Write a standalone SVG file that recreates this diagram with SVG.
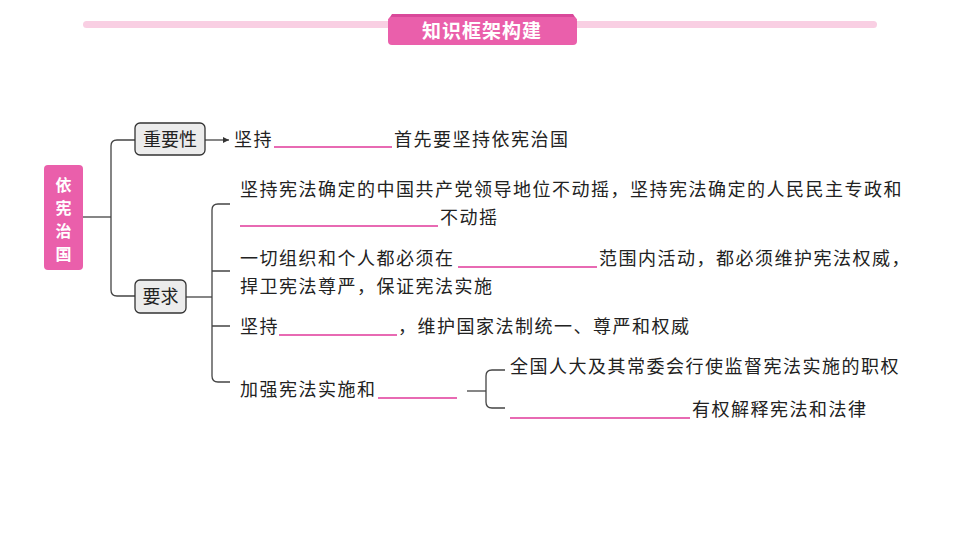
<svg xmlns="http://www.w3.org/2000/svg" width="960" height="540" viewBox="0 0 960 540">
<defs>
<style>
.t{font-family:"Noto Sans CJK SC","Noto Sans",sans-serif;font-size:18px;letter-spacing:1.5px;fill:#222}
.b{stroke:#e0389a;stroke-width:1.5}
.c{fill:none;stroke:#444;stroke-width:1.3}
.box{fill:#ececec;stroke:#333;stroke-width:1.3}
</style>
<marker id="ah" markerWidth="6" markerHeight="6" refX="5" refY="3" orient="auto"><path d="M0,0.5 L5,3 L0,5.5z" fill="#333"/></marker>
</defs>
<rect width="960" height="540" fill="#fff"/>
<g id="header">
<rect x="83" y="21" width="794" height="7" rx="3.5" fill="#f9cfe3"/>
<path d="M388,20 L392,14 L573,14 L577,20 Z" fill="#d9489a"/>
<rect x="388" y="17" width="189" height="28" rx="4" fill="#ea5fab"/>
<text x="482" y="38" text-anchor="middle" font-family="Noto Sans CJK SC,sans-serif" font-weight="bold" font-size="19" letter-spacing="1" fill="#fff">知识框架构建</text>
</g>
<g id="connectors">
<path class="c" d="M83,217 H111"/>
<path class="c" d="M135,140 H117 Q111,140 111,146 V290 Q111,296 117,296 H135"/>
<path class="c" d="M205,140 H229" marker-end="url(#ah)"/>
<path class="c" d="M186,297 H212"/>
<path class="c" d="M230,204 H218 Q212,204 212,210 V376 Q212,382 218,382 H230"/>
<path class="c" d="M212,271 H230 M212,326 H230"/>
<path class="c" d="M467,391 H486"/>
<path class="c" d="M505,370 H492 Q486,370 486,376 V402 Q486,408 492,408 H505"/>
</g>
<g id="root">
<rect x="44" y="165" width="39" height="105" rx="4" fill="#ea5fab"/>
<g font-family="Noto Sans CJK SC,sans-serif" font-weight="bold" font-size="16" fill="#fff" text-anchor="middle">
<text x="63.5" y="191">依</text><text x="63.5" y="214">宪</text><text x="63.5" y="237">治</text><text x="63.5" y="260">国</text>
</g>
</g>
<g id="n-importance">
<rect class="box" x="135" y="123" width="70" height="32" rx="5"/>
<text x="170" y="146" text-anchor="middle" font-family="Noto Sans CJK SC,sans-serif" font-size="18" fill="#222">重要性</text>
</g>
<g id="n-require">
<rect class="box" x="135" y="280" width="51" height="33" rx="5"/>
<text x="160.5" y="303" text-anchor="middle" font-family="Noto Sans CJK SC,sans-serif" font-size="18" fill="#222">要求</text>
</g>
<g id="t1">
<text class="t" x="234" y="146">坚持</text>
<line class="b" x1="274" y1="147" x2="392" y2="147"/>
<text class="t" x="394" y="146">首先要坚持依宪治国</text>
</g>
<g id="t2">
<text class="t" x="240" y="196">坚持宪法确定的中国共产党领导地位不动摇，坚持宪法确定的人民民主专政和</text>
<line class="b" x1="240" y1="226" x2="438" y2="226"/>
<text class="t" x="440" y="224">不动摇</text>
</g>
<g id="t3">
<text class="t" x="240" y="265">一切组织和个人都必须在</text>
<line class="b" x1="458" y1="267" x2="597" y2="267"/>
<text class="t" x="599" y="265">范围内活动，都必须维护宪法权威，</text>
<text class="t" x="240" y="293">捍卫宪法尊严，保证宪法实施</text>
</g>
<g id="t4">
<text class="t" x="240" y="333">坚持</text>
<line class="b" x1="279" y1="335" x2="397" y2="335"/>
<text class="t" x="398" y="333">，维护国家法制统一、尊严和权威</text>
</g>
<g id="t5">
<text class="t" x="240" y="396">加强宪法实施和</text>
<line class="b" x1="378" y1="398" x2="457" y2="398"/>
</g>
<g id="t6">
<text class="t" x="510" y="373">全国人大及其常委会行使监督宪法实施的职权</text>
</g>
<g id="t7">
<line class="b" x1="510" y1="418" x2="690" y2="418"/>
<text class="t" x="692" y="416">有权解释宪法和法律</text>
</g>
</svg>
